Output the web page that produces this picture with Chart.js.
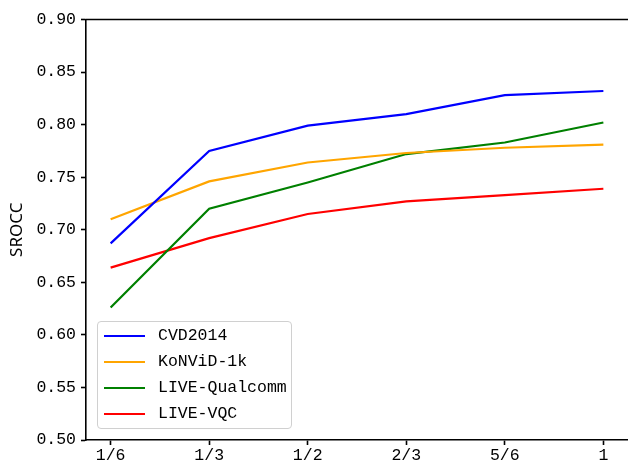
<!DOCTYPE html>
<html>
<head>
<meta charset="utf-8">
<script src="https://cdn.jsdelivr.net/npm/chart.js@4/dist/chart.umd.min.js"></script>
<style>
  html, body { margin: 0; padding: 0; background: #fff; }
  #wrap { position: relative; width: 628px; height: 463px; overflow: hidden; }
  #legend { position: absolute; left: 97px; top: 321px; width: 195px; height: 108px;
    border: 1px solid #d0d0d0; border-radius: 4px; background: rgba(255,255,255,0.8);
    box-sizing: border-box; font-family: "Liberation Mono", "DejaVu Sans Mono", monospace; font-size: 16.5px; color: #000; }
  .row { position: absolute; left: 0; height: 20px; line-height: 20px; white-space: nowrap; }
  .swatch { position: absolute; left: 6px; top: 9px; width: 41px; height: 2.4px; }
  .lbl { position: absolute; left: 60px; top: 0; }
</style>
</head>
<body>
<div id="wrap">
  <canvas id="c" width="628" height="463"></canvas>
  <div id="legend"></div>
</div>
<script>
const categories = ['1/6', '1/3', '1/2', '2/3', '5/6', '1'];
const cvd2014 = [0.687, 0.775, 0.799, 0.810, 0.828, 0.832];
const konvid1k = [0.710, 0.746, 0.764, 0.773, 0.778, 0.781];
const liveQualcomm = [0.626, 0.720, 0.745, 0.772, 0.783, 0.802];
const liveVQC = [0.664, 0.692, 0.715, 0.727, 0.733, 0.739];
const seriesNames = ['CVD2014', 'KoNViD-1k', 'LIVE-Qualcomm', 'LIVE-VQC'];
const yTicks = [0.50, 0.55, 0.60, 0.65, 0.70, 0.75, 0.80, 0.85, 0.90];

const colors = ['#0000ff', '#ffa500', '#008000', '#ff0000'];
const series = [cvd2014, konvid1k, liveQualcomm, liveVQC];
const monoFont = '"Liberation Mono", "DejaVu Sans Mono", monospace';

const datasets = series.map((vals, k) => ({
  label: seriesNames[k],
  data: vals.map((v, i) => ({ x: i, y: v })),
  borderColor: colors[k],
  backgroundColor: colors[k],
  borderWidth: 2.2,
  pointRadius: 0,
  tension: 0,
  fill: false
}));

const topSpine = {
  id: 'topSpine',
  afterDraw(chart) {
    const { ctx, chartArea } = chart;
    ctx.save();
    ctx.strokeStyle = '#000';
    ctx.lineWidth = 1.6;
    ctx.beginPath();
    ctx.moveTo(chartArea.left - 0.8, chartArea.top);
    ctx.lineTo(chartArea.right + 2, chartArea.top);
    ctx.stroke();
    ctx.restore();
  }
};

const chart = new Chart(document.getElementById('c'), {
  type: 'line',
  data: { datasets },
  plugins: [topSpine],
  options: {
    responsive: false,
    animation: false,
    layout: { padding: { top: 19.5, right: 0, left: 0, bottom: 0 } },
    plugins: { legend: { display: false }, tooltip: { enabled: false } },
    scales: {
      x: {
        type: 'linear',
        min: -0.25,
        max: 5.25,
        afterBuildTicks(scale) { scale.ticks = categories.map((c, i) => ({ value: i })); },
        afterFit(scale) { scale.height = 23; },
        grid: { drawOnChartArea: false, drawTicks: true, tickLength: 5, tickColor: '#000', tickWidth: 1.6 },
        border: { display: true, color: '#000', width: 1.6 },
        ticks: {
          color: '#000', padding: 1, maxRotation: 0, autoSkip: false,
          font: { family: monoFont, size: 16.5 },
          callback: (v) => categories[v]
        }
      },
      y: {
        min: 0.5,
        max: 0.9,
        afterBuildTicks(scale) { scale.ticks = yTicks.map(v => ({ value: v })); },
        afterFit(scale) { scale.width = 86; },
        grid: { drawOnChartArea: false, drawTicks: true, tickLength: 5, tickColor: '#000', tickWidth: 1.6 },
        border: { display: true, color: '#000', width: 1.6 },
        title: {
          display: true, text: 'SROCC', color: '#000',
          font: { family: '"Noto Sans", "DejaVu Sans", sans-serif', size: 17 },
          padding: { top: 7, bottom: 0 }
        },
        ticks: {
          color: '#000', padding: 5,
          font: { family: monoFont, size: 16.5 },
          callback: (v) => Number(v).toFixed(2)
        }
      }
    }
  }
});

const legend = document.getElementById('legend');
chart.data.datasets.forEach((ds, k) => {
  const row = document.createElement('div');
  row.className = 'row';
  row.style.top = (4 + k * 26) + 'px';
  const sw = document.createElement('div');
  sw.className = 'swatch';
  sw.style.background = ds.borderColor;
  const lb = document.createElement('div');
  lb.className = 'lbl';
  lb.textContent = ds.label;
  row.appendChild(sw);
  row.appendChild(lb);
  legend.appendChild(row);
});
</script>
</body>
</html>
